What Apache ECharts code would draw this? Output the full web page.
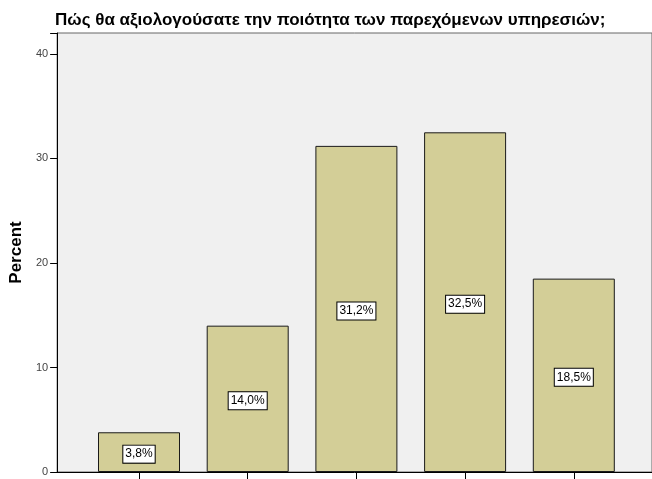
<!DOCTYPE html>
<html>
<head>
<meta charset="utf-8">
<script src="https://cdn.jsdelivr.net/npm/echarts@6/dist/echarts.min.js"></script>
<style>
  html, body { margin: 0; padding: 0; background: #fff; }
  #chart { width: 652px; height: 479px; }
</style>
</head>
<body>
<div id="chart"></div>
<script>
// Rating categories (1 = lowest .. 5 = highest) and their share in percent
const categories = ['1', '2', '3', '4', '5'];
const percentValues = [3.8, 14.0, 31.2, 32.5, 18.5];
const yTicks = [0, 10, 20, 30, 40];

const titleText = 'Πώς θα αξιολογούσατε την ποιότητα των παρεχόμενων υπηρεσιών;';
const FONT = '"Liberation Sans", Arial, sans-serif';

const chart = echarts.init(document.getElementById('chart'), null, { renderer: 'canvas' });

const Y_MAX = 42;

chart.setOption({
  animation: false,
  backgroundColor: '#ffffff',
  title: {
    text: titleText,
    left: 50,
    top: 7,
    textStyle: { fontFamily: FONT, fontSize: 17, fontWeight: 'bold', color: '#000' }
  },
  grid: [
    // frame, background and value axis (right edge runs past the canvas)
    { left: 55, top: 33, width: 640, bottom: 7, show: true,
      backgroundColor: '#F0F0F0', borderColor: '#666', borderWidth: 1 },
    // bars
    { left: 84.65, top: 33, width: 543.5, bottom: 7 }
  ],
  xAxis: [
    { gridIndex: 0, type: 'value', min: 0, max: 1,
      axisLine: { show: true, lineStyle: { color: '#000', width: 1 } },
      axisTick: { show: false }, axisLabel: { show: false }, splitLine: { show: false } },
    { gridIndex: 1, type: 'category', data: categories,
      axisLine: { show: false },
      axisTick: { show: true, alignWithLabel: true, length: 8, lineStyle: { color: '#000' } },
      axisLabel: { show: false } }
  ],
  yAxis: [
    { gridIndex: 0, type: 'value', min: 0, max: Y_MAX, interval: 10,
      name: 'Percent', nameLocation: 'middle', nameGap: 32, nameRotate: 90,
      nameTextStyle: { fontFamily: FONT, fontSize: 17, fontWeight: 'bold', color: '#000' },
      axisLine: { show: true, lineStyle: { color: '#000', width: 1 } },
      axisTick: { show: true, length: 7, lineStyle: { color: '#000' } },
      axisLabel: {
        fontFamily: FONT, fontSize: 11, color: '#444', margin: 9,
        formatter: v => (yTicks.indexOf(v) >= 0 ? String(v) : '')
      },
      splitLine: { show: false } },
    { gridIndex: 1, type: 'value', min: 0, max: Y_MAX, show: false }
  ],
  series: [{
    type: 'bar',
    xAxisIndex: 1,
    yAxisIndex: 1,
    data: percentValues,
    barWidth: 82,
    itemStyle: { color: '#D3CE97', borderColor: '#1a1a1a', borderWidth: 1 },
    label: {
      show: true,
      position: 'inside',
      offset: [0, 2],
      formatter: p => p.value.toFixed(1).replace('.', ',') + '%',
      fontFamily: FONT,
      fontSize: 12,
      color: '#000',
      backgroundColor: '#fff',
      borderColor: '#000',
      borderWidth: 1,
      padding: [3, 2, 2, 2]
    }
  }]
});
</script>
</body>
</html>
